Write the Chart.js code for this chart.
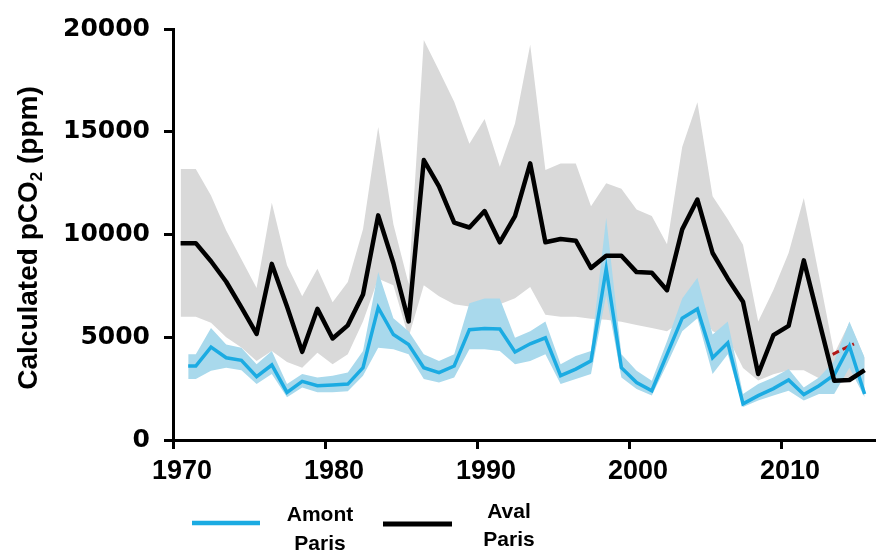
<!DOCTYPE html>
<html>
<head>
<meta charset="utf-8">
<script src="https://cdn.jsdelivr.net/npm/chart.js@4.4.1/dist/chart.umd.min.js"></script>
<style>
  html, body { margin: 0; padding: 0; background: #fff; }
  #wrap { width: 876px; height: 554px; position: relative; }
</style>
</head>
<body>
<div id="wrap"><canvas id="chart" width="876" height="554"></canvas></div>
<script>
// years are plotted mid-year
const years = [1970.5, 1971.5, 1972.5, 1973.5, 1974.5, 1975.5, 1976.5, 1977.5, 1978.5, 1979.5,
  1980.5, 1981.5, 1982.5, 1983.5, 1984.5, 1985.5, 1986.5, 1987.5, 1988.5, 1989.5,
  1990.5, 1991.5, 1992.5, 1993.5, 1994.5, 1995.5, 1996.5, 1997.5, 1998.5, 1999.5,
  2000.5, 2001.5, 2002.5, 2003.5, 2004.5, 2005.5, 2006.5, 2007.5, 2008.5, 2009.5,
  2010.5, 2011.5, 2012.5, 2013.5, 2014.5, 2015.5];

// Aval Paris (black line + grey range)
const aval = [9580, 9580, 8700, 7700, 6450, 5160, 8570, 6500, 4290, 6380,
  4940, 5580, 7080, 10930, 8600, 5770, 13620, 12340, 10580, 10340,
  11140, 9620, 10900, 13460, 9620, 9780, 9700, 8370, 8970, 8970,
  8170, 8140, 7290, 10250, 11700, 9100, 7850, 6730, 3210, 5100,
  5550, 8740, 5810, 2880, 2920, 3400];
const avalHigh = [13190, 13190, 11900, 10200, 8800, 7400, 11540, 8500, 7000, 8330,
  6700, 7690, 10250, 15230, 10500, 7600, 19470, 17980, 16460, 14420,
  15620, 13300, 15400, 19230, 13140, 13460, 13460, 11380, 12500, 12230,
  11220, 10900, 9530, 14260, 16430, 11860, 10740, 9500, 5770, 7300,
  9100, 11780, 8000, 4200, 5700, 4000];
const avalLow = [6000, 6000, 5700, 5000, 4500, 3850, 4330, 3800, 3520, 4250,
  3690, 4170, 5770, 7850, 7530, 5000, 7530, 7000, 6600, 6500,
  6700, 6600, 6900, 7450, 6100, 6000, 6000, 5900, 5850, 5750,
  5600, 5450, 5290, 5800, 6500, 5290, 5000, 3500, 2900, 3200,
  3400, 3400, 3000, 2700, 2900, 3200];

// Amont Paris (blue line + light blue range)
const amontYears = [1971.0, 1971.5, 1972.5, 1973.5, 1974.5, 1975.5, 1976.5, 1977.5, 1978.5, 1979.5,
  1980.5, 1981.5, 1982.5, 1983.5, 1984.5, 1985.5, 1986.5, 1987.5, 1988.5, 1989.5,
  1990.5, 1991.5, 1992.5, 1993.5, 1994.5, 1995.5, 1996.5, 1997.5, 1998.5, 1999.5,
  2000.5, 2001.5, 2002.5, 2003.5, 2004.5, 2005.5, 2006.5, 2007.5, 2008.5, 2009.5,
  2010.5, 2011.5, 2012.5, 2013.5, 2014.5, 2015.5];
const amont = [3600, 3600, 4520, 4000, 3880, 3080, 3650, 2320, 2850, 2640,
  2680, 2720, 3520, 6440, 5130, 4650, 3520, 3280, 3600, 5370,
  5420, 5400, 4280, 4680, 4970, 3130, 3450, 3850, 8330, 3520,
  2800, 2400, 4170, 5930, 6380, 4000, 4730, 1760, 2160, 2500,
  2920, 2210, 2640, 3170, 4570, 2240];
const amontHigh = [4170, 4170, 5450, 4650, 4490, 3690, 4330, 2730, 3210, 3040,
  3130, 3280, 4330, 8170, 5930, 5290, 4170, 3850, 4170, 6650,
  6890, 6890, 4970, 5290, 5770, 3690, 4090, 4330, 10820, 4170,
  3370, 2880, 4810, 6890, 7900, 5130, 5770, 2240, 2730, 3040,
  3450, 2560, 3040, 3850, 5770, 4010];
const amontLow = [2970, 2970, 3370, 3520, 3400, 2730, 3210, 2080, 2560, 2320,
  2320, 2370, 3130, 4490, 4410, 4170, 2970, 2800, 3040, 4410,
  4410, 4330, 3690, 3850, 4170, 2730, 2970, 3210, 7060, 3040,
  2480, 2160, 3690, 5290, 5930, 3210, 4170, 1600, 1920, 2160,
  2400, 1920, 2240, 2240, 3520, 2080];

// short red dashed piece near the end
const redYears = [2013.4, 2014.8];
const redVals = [4170, 4680];

const yTicks = [0, 5000, 10000, 15000, 20000];
const xTicks = [1970, 1980, 1990, 2000, 2010];

const FONT = '"Liberation Sans", Arial, Helvetica, sans-serif';
const BLUE = '#1babe2';
const BLUE_BAND = '#a9d9ec';
const GREY_BAND = '#d9d9d9';

function pts(xs, ys) {
  return xs.map((x, i) => ({ x: x, y: ys[i] }));
}

// y title with subscript 2 + legend under the axis
const extras = {
  id: 'extras',
  afterDraw(chart) {
    const ctx = chart.ctx;
    ctx.save();
    // y title
    const big = 'bold 28px ' + FONT;
    const small = 'bold 17px ' + FONT;
    const p1 = 'Calculated pCO', p2 = '2', p3 = ' (ppm)';
    ctx.font = big;
    const w1 = ctx.measureText(p1).width, w3 = ctx.measureText(p3).width;
    ctx.font = small;
    const w2 = ctx.measureText(p2).width;
    const total = w1 + w2 + w3;
    ctx.translate(29, 238);
    ctx.rotate(-Math.PI / 2);
    ctx.fillStyle = '#000';
    ctx.textBaseline = 'middle';
    ctx.textAlign = 'left';
    let x0 = -total / 2;
    ctx.font = big;
    ctx.fillText(p1, x0, 0);
    ctx.font = small;
    ctx.fillText(p2, x0 + w1, 8);
    ctx.font = big;
    ctx.fillText(p3, x0 + w1 + w2, 0);
    ctx.restore();

    // legend
    ctx.save();
    ctx.lineCap = 'butt';
    ctx.strokeStyle = chart.data.datasets[1].borderColor;
    ctx.lineWidth = 4.5;
    ctx.beginPath(); ctx.moveTo(192, 523); ctx.lineTo(260, 523); ctx.stroke();
    ctx.strokeStyle = chart.data.datasets[0].borderColor;
    ctx.lineWidth = 5;
    ctx.beginPath(); ctx.moveTo(383, 524); ctx.lineTo(452, 524); ctx.stroke();
    ctx.fillStyle = '#000';
    ctx.font = 'bold 21px ' + FONT;
    ctx.textAlign = 'center';
    ctx.textBaseline = 'middle';
    ctx.fillText('Amont', 320, 515);
    ctx.fillText('Paris', 320, 544);
    ctx.fillText('Aval', 509, 512);
    ctx.fillText('Paris', 509, 540);
    ctx.restore();
  }
};

new Chart(document.getElementById('chart'), {
  type: 'line',
  data: {
    datasets: [
      { label: 'Aval Paris', data: pts(years, aval), borderColor: '#000', borderWidth: 4.5,
        pointRadius: 0, fill: false, tension: 0, order: 0, borderJoinStyle: 'round' },
      { label: 'Amont Paris', data: pts(amontYears, amont), borderColor: BLUE, borderWidth: 3.5,
        pointRadius: 0, fill: false, tension: 0, order: 1 },
      { label: 'red', data: pts(redYears, redVals), borderColor: '#b01818', borderWidth: 3,
        borderDash: [7, 4], pointRadius: 0, fill: false, order: 1 },
      { label: 'amont high', data: pts(amontYears, amontHigh), borderWidth: 0, borderColor: 'rgba(0,0,0,0)',
        backgroundColor: BLUE_BAND, pointRadius: 0, fill: 4, order: 2 },
      { label: 'amont low', data: pts(amontYears, amontLow), borderWidth: 0, borderColor: 'rgba(0,0,0,0)',
        pointRadius: 0, fill: false, order: 2 },
      { label: 'aval high', data: pts(years, avalHigh), borderWidth: 0, borderColor: 'rgba(0,0,0,0)',
        backgroundColor: GREY_BAND, pointRadius: 0, fill: 6, order: 3 },
      { label: 'aval low', data: pts(years, avalLow), borderWidth: 0, borderColor: 'rgba(0,0,0,0)',
        pointRadius: 0, fill: false, order: 3 }
    ]
  },
  options: {
    responsive: false,
    animation: false,
    layout: { padding: { left: 0, right: 0, top: 24, bottom: 0 } },
    plugins: { legend: { display: false }, tooltip: { enabled: false } },
    scales: {
      x: {
        type: 'linear',
        min: 1970,
        max: 2016.25,
        afterFit(s) { s.height = 114; },
        afterBuildTicks(s) { s.ticks = xTicks.map(v => ({ value: v })); },
        border: { display: true, color: '#000', width: 3 },
        grid: { drawOnChartArea: false, drawTicks: true, tickLength: 9, tickWidth: 3, tickColor: '#000' },
        ticks: { color: '#000', font: { family: FONT, size: 27, weight: 'bold' }, padding: 6,
          labelOffset: 9, maxRotation: 0, autoSkip: false, callback: v => String(v) }
      },
      y: {
        min: 0,
        max: 20000,
        afterFit(s) { s.width = 173; },
        afterBuildTicks(s) { s.ticks = yTicks.map(v => ({ value: v })); },
        border: { display: true, color: '#000', width: 3 },
        grid: { drawOnChartArea: false, drawTicks: true, tickLength: 9, tickWidth: 3, tickColor: '#000' },
        ticks: { color: '#000', font: { family: '"DejaVu Sans", sans-serif', size: 25, weight: 'bold' },
          padding: 14, callback: v => String(v) }
      }
    }
  },
  plugins: [extras]
});
</script>
</body>
</html>
